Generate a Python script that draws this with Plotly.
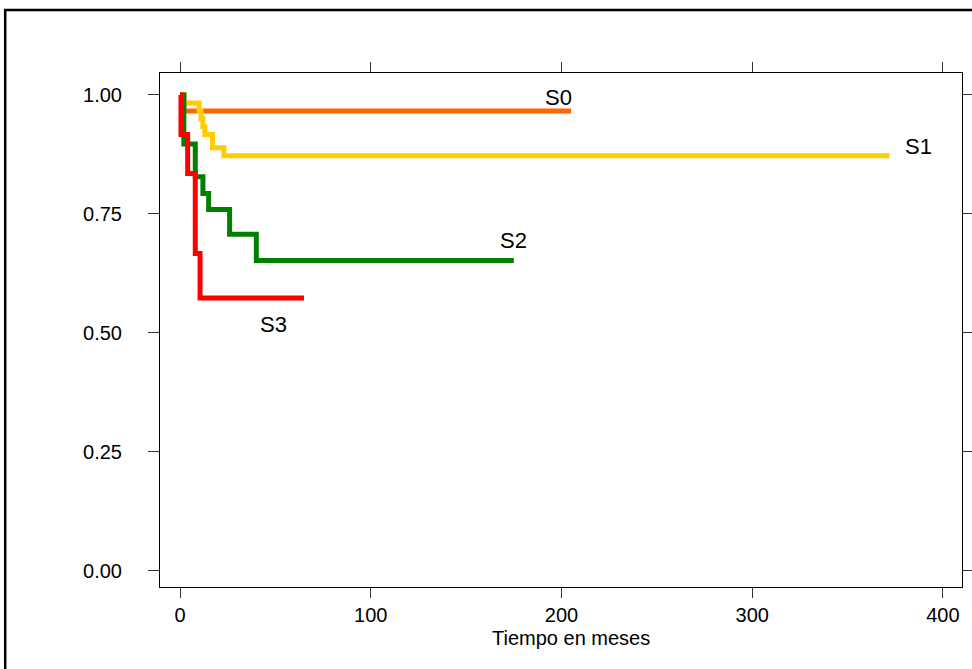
import plotly.graph_objects as go

# Kaplan-Meier style step curves (time in months, survival probability)
s0_t = [0, 2, 205]
s0_s = [1.0, 0.966, 0.966]

s1_t = [0, 2, 10, 11, 12, 13, 17, 23, 372]
s1_s = [1.0, 0.983, 0.967, 0.95, 0.933, 0.917, 0.889, 0.872, 0.872]

s2_t = [0, 2, 8, 12, 15, 26, 40, 175]
s2_s = [1.0, 0.897, 0.828, 0.793, 0.759, 0.707, 0.652, 0.652]

s3_t = [0, 0.5, 4, 8, 10.5, 65]
s3_s = [1.0, 0.917, 0.835, 0.667, 0.573, 0.573]

series = [
    ("S0", s0_t, s0_s, "#FF6600"),
    ("S1", s1_t, s1_s, "#FFCC00"),
    ("S2", s2_t, s2_s, "#008000"),
    ("S3", s3_t, s3_s, "#FF0000"),
]

labels = ["S0", "S1", "S2", "S3"]
label_x = [198.5, 387.4, 175, 48.8]
label_y = [0.994, 0.891, 0.695, 0.517]

x_ticks = [0, 100, 200, 300, 400]
y_ticks = [0.0, 0.25, 0.5, 0.75, 1.0]
y_tick_text = ["0.00", "0.25", "0.50", "0.75", "1.00"]

FONT = "Liberation Sans, Arial, sans-serif"

fig = go.Figure()
for name, t, s, c in series:
    fig.add_trace(go.Scatter(x=t, y=s, mode="lines", name=name,
                             line=dict(color=c, width=5, shape="hv"),
                             showlegend=False, hoverinfo="skip"))

for lab, lx, ly in zip(labels, label_x, label_y):
    fig.add_annotation(x=lx, y=ly, text=lab, showarrow=False,
                       font=dict(size=22, color="black", family=FONT))

fig.add_annotation(x=0.513, y=-0.073, xref="paper", yref="paper",
                   text="Tiempo en meses", showarrow=False, yanchor="top",
                   font=dict(size=20, color="black", family=FONT))

# outer page frame
fig.add_shape(type="rect", xref="paper", yref="paper",
              x0=-0.193, y0=-2, x1=2, y1=1.1226,
              line=dict(color="black", width=2.5), fillcolor="rgba(0,0,0,0)")

axis_common = dict(showgrid=False, zeroline=False, showline=True,
                   linecolor="black", linewidth=1, mirror="allticks",
                   ticks="outside", tickwidth=1, tickcolor="#333333",
                   automargin=False,
                   tickfont=dict(size=20, color="black", family=FONT))

fig.update_xaxes(range=[-10.5, 410], tickvals=x_ticks, ticklen=10, **axis_common)
fig.update_yaxes(range=[-0.034, 1.046], tickvals=y_ticks, ticktext=y_tick_text,
                 ticklen=11, ticklabelstandoff=22, **axis_common)

fig.update_layout(width=972, height=669, template="none",
                  margin=dict(l=160, r=10, t=73, b=82, autoexpand=False),
                  paper_bgcolor="white", plot_bgcolor="white",
                  font=dict(family=FONT, color="black"))

fig.write_html("out.html")
